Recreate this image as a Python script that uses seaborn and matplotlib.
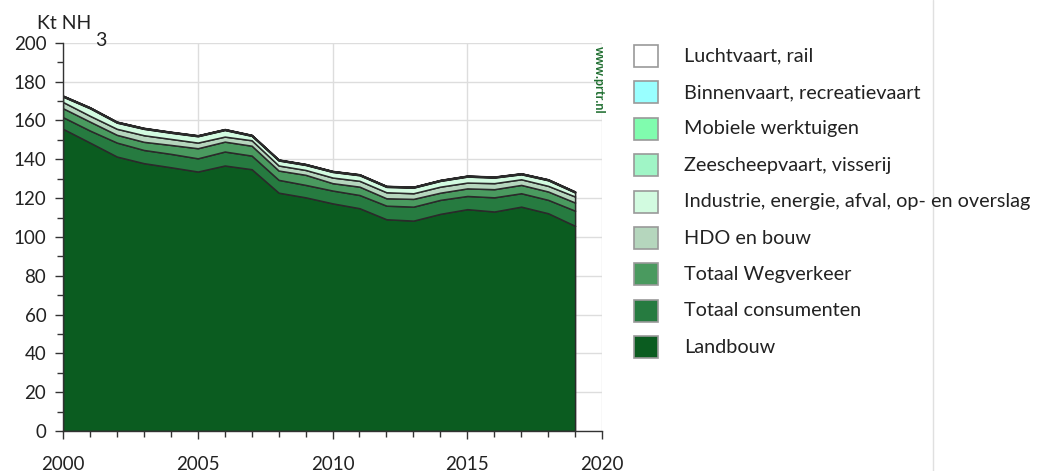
import numpy as np
import matplotlib
matplotlib.use("Agg")
import matplotlib.pyplot as plt
from matplotlib.patches import Rectangle
from matplotlib.lines import Line2D
import seaborn as sns

# jaren en emissies (kt NH3) per bron
years = list(range(2000, 2020))
landbouw = [155.7, 148.6, 141.4, 138.0, 135.9, 133.7, 136.8, 134.9, 122.8, 120.4,
            117.3, 114.8, 109.1, 108.4, 111.9, 114.3, 113.1, 115.6, 112.2, 105.7]
consumenten = [6.0, 6.2, 7.2, 6.8, 6.9, 6.8, 7.2, 7.0, 6.6, 6.4,
               6.6, 6.8, 7.0, 7.2, 7.2, 6.8, 7.3, 6.9, 6.9, 7.8]
wegverkeer = [4.6, 4.6, 4.0, 4.2, 4.6, 5.2, 5.1, 5.1, 4.8, 5.2,
              3.8, 4.3, 3.8, 4.0, 3.7, 3.9, 4.2, 4.3, 4.3, 4.2]
hdo_bouw = [3.2, 3.0, 3.1, 3.4, 3.1, 2.9, 2.6, 2.8, 2.6, 2.5,
            2.9, 3.0, 3.1, 2.9, 3.1, 3.0, 3.1, 2.9, 2.9, 3.1]
industrie = [2.8, 3.9, 3.2, 3.3, 3.2, 3.3, 3.4, 2.3, 2.6, 2.6,
             2.9, 2.9, 2.8, 2.9, 3.0, 3.1, 2.9, 2.6, 2.9, 2.1]
zeescheepvaart = [0.2] * 20
mobiele = [0.1] * 20
binnenvaart = [0.1] * 20
luchtvaart = [0.1] * 20

labels = ["Landbouw", "Totaal consumenten", "Totaal Wegverkeer", "HDO en bouw",
          "Industrie, energie, afval, op- en overslag", "Zeescheepvaart, visserij",
          "Mobiele werktuigen", "Binnenvaart, recreatievaart", "Luchtvaart, rail"]
colors = ["#0b5c20", "#267b40", "#4a9a5f", "#b5d6bd", "#d2fbe0",
          "#a0f5c6", "#80fcae", "#99ffff", "#ffffff"]
series = [landbouw, consumenten, wegverkeer, hdo_bouw, industrie,
          zeescheepvaart, mobiele, binnenvaart, luchtvaart]

sns.set_theme(style="whitegrid")
plt.rcParams["font.family"] = ["Lato", "DejaVu Sans"]
text_col = "#222222"

fig = plt.figure(figsize=(10.4, 4.71), dpi=100)
ax = fig.add_axes([0.0606, 0.085, 0.5183, 0.824])

ax.stackplot(years, *series, colors=colors, edgecolor="#2a2a2a", linewidth=1.1)

ax.set_xlim(2000, 2020)
ax.set_ylim(0, 200)
ax.set_xticks([2000, 2005, 2010, 2015, 2020])
ax.set_xticks(range(2000, 2021), minor=True)
ax.set_yticks(range(0, 201, 20))
ax.set_yticks(range(0, 201, 10), minor=True)
ax.tick_params(axis="both", which="major", length=6, width=1, color="#333333",
               labelsize=13.5, labelcolor=text_col, direction="out")
ax.tick_params(axis="both", which="minor", length=4, width=1, color="#333333",
               direction="out")
ax.tick_params(axis="x", pad=12)
ax.tick_params(axis="y", pad=6)
ax.xaxis.set_ticks_position("bottom")
ax.yaxis.set_ticks_position("left")
ax.grid(True, which="major", color="#dddddd", linewidth=1)
ax.grid(False, which="minor")
ax.set_axisbelow(True)
for side in ["top", "right"]:
    ax.spines[side].set_visible(False)
for side in ["left", "bottom"]:
    ax.spines[side].set_color("#333333")
    ax.spines[side].set_linewidth(1)
ax.set_facecolor("white")

# eenheid linksboven
fig.text(37 / 1040, 1 - 29 / 471, "Kt NH", fontsize=14, color=text_col, va="baseline")
fig.text(95 / 1040, 1 - 46 / 471, "3", fontsize=14, color=text_col, va="baseline")

# bron-watermerk
fig.text(599 / 1040, 1 - 46 / 471, "www.prtr.nl", fontsize=9, color="#1f6e30",
         fontweight="bold", rotation=-90, ha="center", va="top")

# legenda (van boven naar beneden)
row0 = 56
step = 36.4
for i, (lab, col) in enumerate(zip(labels[::-1], colors[::-1])):
    yc = row0 + i * step
    fig.patches.append(Rectangle((634 / 1040, 1 - (yc + 11) / 471), 24 / 1040, 22 / 471,
                                 transform=fig.transFigure, facecolor=col,
                                 edgecolor="#999999", linewidth=1.2))
    fig.text(684 / 1040, 1 - yc / 471, lab, fontsize=14.3, color=text_col, va="center")

# scheidingslijn rechts
fig.add_artist(Line2D([933 / 1040, 933 / 1040], [0, 1], transform=fig.transFigure,
                      color="#e0e0e0", linewidth=1))

fig.savefig("out.png", dpi=100, facecolor="white")
